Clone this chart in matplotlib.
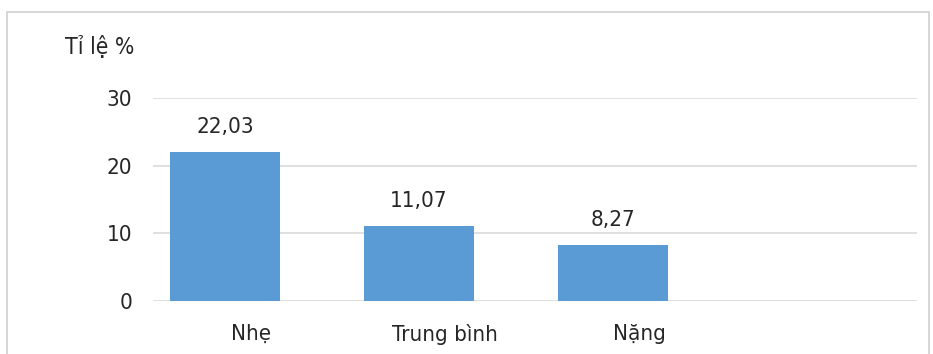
import numpy as np
import matplotlib as mpl
mpl.use('Agg')
import matplotlib.pyplot as plt
from matplotlib.patches import Rectangle

# Data
categories = ["Nhẹ", "Trung bình", "Nặng"]
values = [22.03, 11.07, 8.27]
value_labels = ["22,03", "11,07", "8,27"]
yticks = [0, 10, 20, 30]

plt.rcParams['font.family'] = ['DejaVu Sans']
plt.rcParams['font.stretch'] = 'condensed'
text_color = "#262626"
bar_color = "#5B9BD5"
grid_color = "#D9D9D9"

W, H = 933, 354
fig = plt.figure(figsize=(W / 100, H / 100), dpi=100)

# outer chart frame
fig.patches.append(Rectangle((7 / W, -0.1), (929 - 7) / W, 1.1 - 12.5 / H,
                             transform=fig.transFigure, fill=False,
                             edgecolor="#D0D0D0", linewidth=1.2))

ax = fig.add_axes([153 / W, 1 - 301 / H, (917 - 153) / W, (301 - 98) / H])

x = np.arange(len(categories))
ax.bar(x, values, width=0.567, color=bar_color, zorder=2)

ax.set_ylim(0, 30)
ax.set_xlim(-0.371, 3.567)
ax.set_yticks(yticks)
ax.set_yticklabels([str(t) for t in yticks], fontsize=16, color=text_color)
ax.tick_params(axis='y', length=0, pad=15)
ax.set_xticks([])
ax.yaxis.grid(True, color=grid_color, linewidth=1.2, zorder=0)
for s in ax.spines.values():
    s.set_visible(False)

# value labels above bars
for xi, v, lab in zip(x, values, value_labels):
    ax.annotate(lab, (xi, v), xytext=(0, 18), textcoords="offset points",
                ha="center", va="center", fontsize=16, color=text_color)

# category labels under the axis, shifted right as in the source layout
for xi, cat in zip(x, categories):
    ax.annotate(cat, (xi, 0), xytext=(19, -24), textcoords="offset points",
                ha="center", va="center", fontsize=16, color=text_color)

fig.text(65 / W, 1 - 47 / H, "Tỉ lệ %", fontsize=16.5, color=text_color,
         ha="left", va="center")

fig.savefig("out.png", dpi=100)
